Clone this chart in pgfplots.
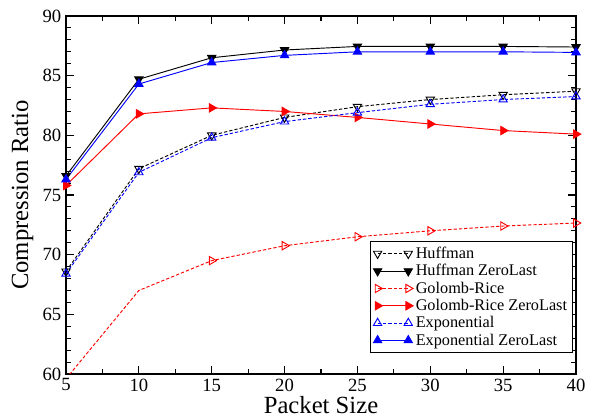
\documentclass[border=0pt]{standalone}
\usepackage{fontspec}
\setmainfont{Liberation Serif}
\usepackage{pgfplots}
\pgfplotsset{compat=1.18}
\begin{document}
\begin{tikzpicture}
\begin{axis}[
 at={(0,0)}, anchor=south west,
 scale only axis, width=382.5pt, height=268.5pt,
 xmin=5, xmax=40, ymin=60, ymax=90,
 xtick={5,10,...,40}, ytick={60,65,...,90},
 minor x tick num=1, minor y tick num=4,
 tick align=inside, major tick length=6pt, minor tick length=3.5pt,
 axis line style={line width=1.1pt},
 every tick/.style={black, line width=0.8pt},
 tick label style={font=\fontsize{14}{14}\selectfont},
 /pgf/number format/assume math mode=true,
 xlabel={Packet Size}, ylabel={Compression Ratio},
 label style={font=\fontsize{18.5}{18.5}\selectfont},
 xlabel style={yshift=3pt},
 legend style={at={(0.994,0.059)}, anchor=south east,
   font=\fontsize{12.2}{12.2}\selectfont, draw=black, line width=0.8pt,
   row sep=-1pt, inner sep=2pt},
 legend cell align=left,
 legend image code/.code={\draw[line width=0.7pt,#1,mark indices={1,2}] plot coordinates {(0pt,0pt) (23pt,0pt)};},
 every axis plot/.append style={line width=0.7pt, mark size=3.6pt},
]
\addplot[black, dashed, dash pattern=on 2.5pt off 1.5pt, mark=triangle, mark options={solid, rotate=180, fill=white}]
 coordinates {(5,68.6) (10,77.2) (15,80.0) (20,81.5) (25,82.4) (30,83.0) (35,83.4) (40,83.7)};
\addlegendentry{Huffman}
\addplot[black, mark=triangle*, mark options={rotate=180, fill=black}]
 coordinates {(5,76.6) (10,84.7) (15,86.5) (20,87.15) (25,87.45) (30,87.45) (35,87.45) (40,87.4)};
\addlegendentry{Huffman ZeroLast}
\addplot[red, dashed, dash pattern=on 2.5pt off 1.5pt, mark=triangle, mark options={solid, rotate=-90, fill=white}, mark indices={2,3,4,5,6,7,8}]
 coordinates {(5,59.6) (10,67.0) (15,69.5) (20,70.75) (25,71.5) (30,72.0) (35,72.4) (40,72.65)};
\addlegendentry{Golomb-Rice}
\addplot[red, mark=triangle*, mark options={rotate=-90, fill=red}]
 coordinates {(5,75.8) (10,81.8) (15,82.3) (20,82.0) (25,81.5) (30,80.95) (35,80.4) (40,80.1)};
\addlegendentry{Golomb-Rice ZeroLast}
\addplot[blue, dashed, dash pattern=on 2.5pt off 1.5pt, mark=triangle, mark options={solid, fill=white}]
 coordinates {(5,68.4) (10,76.9) (15,79.8) (20,81.15) (25,81.9) (30,82.6) (35,83.0) (40,83.25)};
\addlegendentry{Exponential}
\addplot[blue, mark=triangle*, mark options={fill=blue}]
 coordinates {(5,76.3) (10,84.3) (15,86.1) (20,86.7) (25,87.0) (30,87.0) (35,87.0) (40,86.95)};
\addlegendentry{Exponential ZeroLast}
\end{axis}
\pgfresetboundingbox
\path (-49.5pt,-34.5pt) rectangle (394.5pt,280.5pt);
\end{tikzpicture}
\end{document}
